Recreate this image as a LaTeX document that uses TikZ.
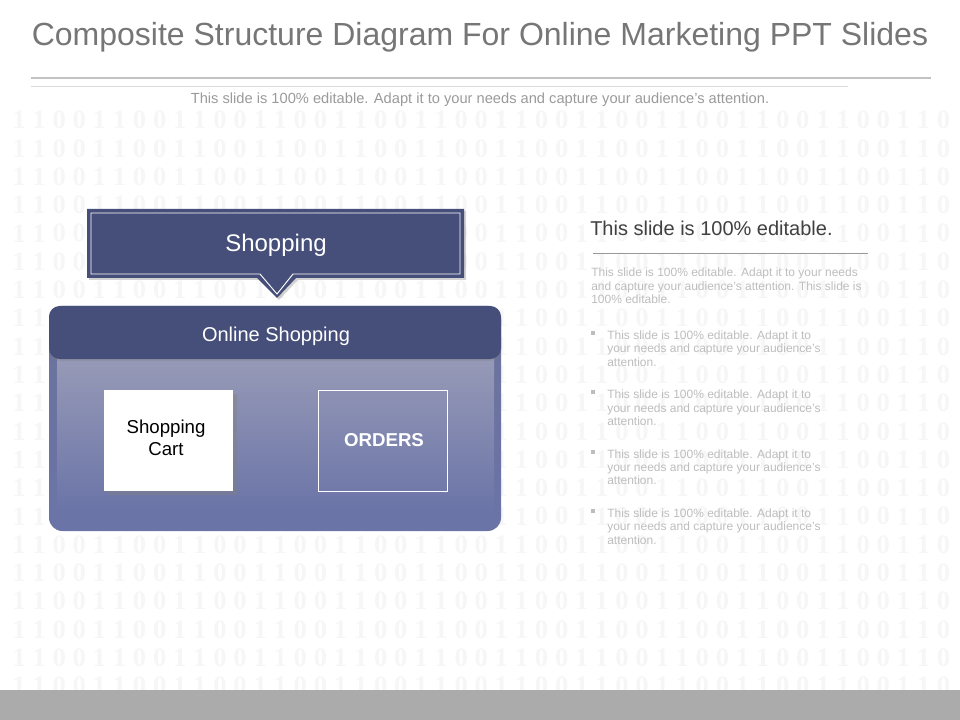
\documentclass[tikz,border=0pt]{standalone}
\usepackage{fontspec}
\setmainfont{Liberation Sans}
\newfontfamily\bitfont{Liberation Serif}
\usetikzlibrary{shadows}

\definecolor{slate}{HTML}{464E7A}
\definecolor{slatetop}{HTML}{979AB7}
\definecolor{slatelow}{HTML}{6A74A7}
\definecolor{slaterim}{HTML}{6C729C}
\definecolor{titlegray}{HTML}{767676}
\definecolor{subgray}{HTML}{9A9A9A}
\definecolor{bitgray}{HTML}{F6F6F6}
\definecolor{rulegray}{HTML}{C2C2C2}
\definecolor{notegray}{HTML}{BDBDBD}
\definecolor{bargray}{HTML}{ABABAB}

\tikzset{
  bitdigit/.style={font=\bitfont\bfseries\fontsize{20}{20}\selectfont, text=bitgray, inner sep=0pt},
  note/.style={font=\fontsize{9}{10}\selectfont, text=notegray, align=left, anchor=north west, inner sep=0pt},
  bulletmark/.style={fill=notegray, minimum size=3pt, inner sep=0pt},
  whitelabel/.style={text=white, inner sep=0pt},
  cardbox/.style={minimum width=96.5pt, minimum height=75.5pt, inner sep=0pt},
}

\begin{document}
\begin{tikzpicture}[x=0.75pt,y=-0.75pt]
  \useasboundingbox (0,0) rectangle (960,720);

  % background digits
  \foreach \r in {0,...,20}{
    \foreach \c in {0,...,46}{
      \pgfmathtruncatemacro{\b}{mod(\c,4)<2 ? 1 : 0}
      \node[bitdigit] (bit-\r-\c) at (19+\c*20.1, 120+\r*28.3) {\b};
    }
  }
  \fill[bargray] (0,690) rectangle (960,720);

  % heading
  \node[font=\fontsize{24}{24}\selectfont, text=titlegray] (title) at (480,37)
    {Composite Structure Diagram For Online Marketing PPT Slides};
  \draw[rulegray, line width=0.8pt] (31,78) -- (931,78);
  \draw[rulegray!60] (31,86) -- (848,86);
  \node[font=\fontsize{11}{11}\selectfont, text=subgray, anchor=base] (subtitle) at (480,104)
    {This slide is 100\% editable. Adapt it to your needs and capture your audience's attention.};

  % callout
  \fill[slate, drop shadow={shadow xshift=1.5pt, shadow yshift=-1.5pt, opacity=.35}]
    (87,209) -- (464,209) -- (464,278) -- (296,278) -- (277,298) -- (257,278) -- (87,278) -- cycle;
  \draw[white, line width=0.7pt]
    (91,213) -- (460,213) -- (460,274) -- (293,274) -- (277,294) -- (260,274) -- (91,274) -- cycle;
  \node[whitelabel, font=\fontsize{18}{18}\selectfont, anchor=base] (shopping) at (276,252) {Shopping};

  % container
  \shade[top color=slaterim, bottom color=slatelow, rounded corners=10] (49,306) rectangle (501,531);
  \shade[top color=slatetop, bottom color=slatelow] (57,358) rectangle (494,512);
  \fill[slate, rounded corners=8, drop shadow={shadow xshift=0pt, shadow yshift=-1.5pt, opacity=.3}]
    (49,306) rectangle (501,359);
  \node[whitelabel, font=\fontsize{15}{15}\selectfont, anchor=base] (online) at (276,341) {Online Shopping};

  \node[cardbox, fill=white, drop shadow={shadow xshift=3pt, shadow yshift=-3pt, opacity=.4}] (cart) at (168.5,440.5) {};
  \node[font=\fontsize{14}{16.3}\selectfont, align=center, anchor=north, inner sep=0pt] (carttext) at (166,420) {Shopping\\Cart};
  \node[cardbox, draw=white, line width=0.8pt] (orders) at (382.8,441) {};
  \node[whitelabel, font=\bfseries\fontsize{14}{14}\selectfont, anchor=base] (orderstext) at (384,446) {ORDERS};

  % side text
  \node[font=\fontsize{15}{15}\selectfont, text=black!75, anchor=base west, inner sep=0pt] (headline) at (590,236)
    {This slide is 100\% editable.};
  \draw[gray!80] (593,253) -- (868,253);
  \node[note] (para) at (591,268)
    {This slide is 100\% editable. Adapt it to your needs\\and capture your audience's attention. This slide is\\100\% editable.};
  \foreach \i in {0,...,3}{
    \node[bulletmark] (dot-\i) at (593,333+\i*59.3) {};
    \node[note] (item-\i) at (607,330.5+\i*59.3)
      {This slide is 100\% editable. Adapt it to\\your needs and capture your audience's\\attention.};
  }
\end{tikzpicture}
\end{document}
